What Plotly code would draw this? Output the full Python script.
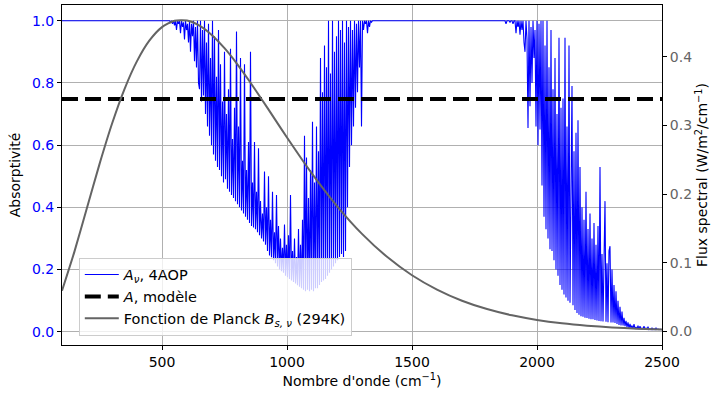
import numpy as np
import plotly.graph_objects as go

# ---------------- data ----------------
# Absorptivity A_nu (4AOP) - flat part, first band (530-1350, step 4), second band (1860-2500, step 4)
nu_flat = [100]
A_flat = [1.0]

nu_band1 = list(range(530, 1351, 4))
A_band1 = [
    1.0, 0.995, 1.0, 0.99, 1.0, 0.985, 1.0, 0.97, 1.0, 0.99,        # 530-566
    1.0, 0.96, 1.0, 0.98, 0.995, 0.94, 1.0, 0.97, 0.99, 0.93,       # 570-606
    1.0, 0.90, 0.99, 0.95, 1.0, 0.87, 0.98, 0.85, 1.0, 0.80,        # 610-646
    0.78, 1.0, 0.74, 0.97, 0.76, 1.0, 0.70, 0.93, 0.66, 0.99,       # 650-686
    0.63, 0.88, 0.60, 1.0, 0.57, 0.95, 0.55, 0.82, 0.53, 0.97,      # 690-726
    0.52, 0.86, 0.50, 0.74, 0.48, 0.90, 0.49, 0.70, 0.46, 0.78,     # 730-766
    0.45, 0.91, 0.44, 0.62, 0.43, 0.72, 0.42, 0.965, 0.41, 0.66,    # 770-806
    0.40, 0.88, 0.39, 0.55, 0.38, 0.86, 0.37, 0.52, 0.36, 0.61,     # 810-846
    0.35, 0.90, 0.34, 0.48, 0.335, 0.61, 0.33, 0.45, 0.32, 0.59,    # 850-886
    0.31, 0.42, 0.30, 0.38, 0.29, 0.515, 0.28, 0.40, 0.26, 0.50,    # 890-926
    0.245, 0.36, 0.24, 0.45, 0.23, 0.32, 0.22, 0.44, 0.21, 0.34,    # 930-966
    0.20, 0.30, 0.195, 0.27, 0.19, 0.345, 0.18, 0.28, 0.175, 0.31,  # 970-1006
    0.17, 0.44, 0.165, 0.26, 0.16, 0.30, 0.155, 0.24, 0.15, 0.33,   # 1010-1046
    0.145, 0.28, 0.14, 0.36, 0.135, 0.63, 0.13, 0.56, 0.135, 0.43,  # 1050-1086
    0.13, 0.52, 0.135, 0.675, 0.13, 0.48, 0.14, 0.66, 0.14, 0.58,   # 1090-1126
    0.15, 0.88, 0.16, 0.77, 0.165, 0.92, 0.17, 0.85, 0.18, 1.0,     # 1130-1166
    0.19, 0.83, 0.20, 1.0, 0.21, 0.90, 0.22, 0.95, 0.23, 1.0,       # 1170-1206
    0.24, 0.97, 0.25, 1.0, 0.24, 0.93, 0.26, 1.0, 0.40, 0.98,       # 1210-1246
    0.53, 1.0, 0.60, 0.97, 0.66, 1.0, 0.72, 0.99, 0.77, 1.0,        # 1250-1286
    0.85, 1.0, 0.66, 1.0, 0.97, 1.0, 0.99, 1.0, 0.96, 1.0,          # 1290-1326
    0.98, 1.0, 0.995, 1.0, 1.0, 1.0,                                # 1330-1350
]

nu_band2 = list(range(1860, 2501, 4))
A_band2 = [
    1.0, 1.0, 1.0, 1.0, 0.99, 1.0, 1.0, 1.0, 0.995, 1.0,            # 1860-1896
    1.0, 0.99, 1.0, 1.0, 0.96, 1.0, 0.98, 1.0, 0.955, 1.0,          # 1900-1936
    0.97, 1.0, 0.93, 0.90, 1.0, 0.94, 0.655, 1.0, 0.725, 0.98,      # 1940-1976
    0.80, 1.0, 0.88, 0.97, 0.66, 1.0, 0.60, 0.99, 0.65, 1.0,        # 1980-2016
    0.47, 1.0, 0.37, 0.92, 0.33, 1.0, 0.30, 0.85, 0.265, 0.97,      # 2020-2056
    0.26, 0.78, 0.23, 0.88, 0.20, 0.70, 0.18, 0.945, 0.15, 0.72,    # 2060-2096
    0.135, 0.75, 0.12, 0.945, 0.11, 0.66, 0.10, 0.92, 0.093, 0.62,  # 2100-2136
    0.79, 0.085, 0.58, 0.07, 0.64, 0.06, 0.68, 0.055, 0.53, 0.05,   # 2140-2176
    0.40, 0.048, 0.36, 0.045, 0.45, 0.044, 0.33, 0.042, 0.38, 0.04, # 2180-2216
    0.30, 0.04, 0.35, 0.038, 0.28, 0.036, 0.34, 0.035, 0.53, 0.034, # 2220-2256
    0.25, 0.033, 0.30, 0.42, 0.032, 0.22, 0.031, 0.26, 0.275, 0.03, # 2260-2296
    0.20, 0.03, 0.15, 0.028, 0.13, 0.025, 0.10, 0.022, 0.08, 0.02,  # 2300-2336
    0.065, 0.02, 0.045, 0.018, 0.035, 0.015, 0.03, 0.012, 0.025, 0.012,  # 2340-2376
    0.02, 0.01, 0.025, 0.009, 0.015, 0.009, 0.02, 0.008, 0.018, 0.008,   # 2380-2416
    0.012, 0.008, 0.018, 0.007, 0.012, 0.007, 0.016, 0.007, 0.01, 0.007, # 2420-2456
    0.013, 0.007, 0.01, 0.007, 0.012, 0.007, 0.009, 0.007, 0.008, 0.007, # 2460-2496
    0.007,                                                           # 2500
]

# Model absorptivity (constant)
nu_model = [100, 2500]
A_model = [0.748, 0.748]

# Planck function B_s,nu (294 K), W/m2/cm-1
nu_planck = [100, 150, 200, 250, 300, 350, 400, 450, 500, 550, 600, 650, 700, 750,
             800, 850, 900, 950, 1000, 1100, 1200, 1300, 1400, 1500, 1600, 1700,
             1800, 1900, 2000, 2100, 2200, 2300, 2400, 2500]
flux_planck = [0.0593, 0.1166, 0.1802, 0.2437, 0.3024, 0.3530, 0.3937, 0.4238,
               0.4432, 0.4526, 0.4529, 0.4454, 0.4315, 0.4125, 0.3898, 0.3644,
               0.3375, 0.3100, 0.2825, 0.2298, 0.1826, 0.1421, 0.1087, 0.0819,
               0.0610, 0.0448, 0.0326, 0.0235, 0.0168, 0.0119, 0.0084, 0.0059,
               0.0041, 0.0028]

x_ticks = [500, 1000, 1500, 2000, 2500]
y_ticks = [0.0, 0.2, 0.4, 0.6, 0.8, 1.0]
y2_ticks = [0.0, 0.1, 0.2, 0.3, 0.4]

# ---------------- figure ----------------
nu_A = nu_flat + nu_band1 + nu_band2
A_all = A_flat + A_band1 + A_band2

FONT = "DejaVu Sans"
fig = go.Figure()
fig.add_trace(go.Scatter(
    x=nu_A, y=A_all, mode="lines",
    line=dict(color="#0000ff", width=1.1),
    name="<i>A</i><sub><i>ν</i></sub>, 4AOP",
))
fig.add_trace(go.Scatter(
    x=nu_model, y=A_model, mode="lines",
    line=dict(color="black", width=4, dash="16px,7px"),
    name="<i>A</i>, modèle",
))
fig.add_trace(go.Scatter(
    x=nu_planck, y=flux_planck, mode="lines", yaxis="y2",
    line=dict(color="#646464", width=2, shape="spline", smoothing=0.6),
    name="Fonction de Planck <i>B</i><sub><i>s, ν</i></sub> (294K)",
))

fig.update_layout(
    width=717, height=393,
    margin=dict(l=62, r=55, t=5, b=48),
    paper_bgcolor="white", plot_bgcolor="white",
    font=dict(family=FONT, size=14, color="black"),
    showlegend=True,
    legend=dict(
        x=0.028, y=0.257, xanchor="left", yanchor="top",
        bgcolor="rgba(255,255,255,0.8)", bordercolor="#cccccc", borderwidth=1,
        font=dict(family=FONT, size=14.5, color="black"),
        itemwidth=34, tracegroupgap=0,
    ),
    xaxis=dict(
        range=[100, 2500], tickvals=x_ticks, ticktext=[str(v) for v in x_ticks],
        showgrid=True, gridcolor="#b0b0b0", gridwidth=1, zeroline=False,
        showline=True, linecolor="black", linewidth=1, mirror=True,
        ticks="outside", ticklen=4, tickcolor="black",
        tickfont=dict(size=14, color="black"),
        title=dict(text="Nombre d'onde (cm<sup>−1</sup>)", standoff=7,
                   font=dict(size=14)),
    ),
    yaxis=dict(
        range=[-0.0425, 1.0505], tickvals=y_ticks,
        ticktext=[f"{v:.1f}" for v in y_ticks],
        showgrid=True, gridcolor="#b0b0b0", gridwidth=1, zeroline=False,
        showline=True, linecolor="black", linewidth=1,
        ticks="outside", ticklen=4, tickcolor="black",
        tickfont=dict(size=14, color="#0000ff"),
        title=dict(text="Absorptivité", standoff=8, font=dict(size=14)),
    ),
    yaxis2=dict(
        range=[-0.0197, 0.4754], tickvals=y2_ticks,
        ticktext=[f"{v:.1f}" for v in y2_ticks],
        overlaying="y", side="right", anchor="x",
        showgrid=False, zeroline=False,
        showline=True, linecolor="black", linewidth=1,
        ticks="outside", ticklen=4, tickcolor="black",
        tickfont=dict(size=14, color="#646464"),
        title=dict(text="Flux spectral (W/m<sup>2</sup>/cm<sup>−1</sup>)",
                   standoff=6, font=dict(size=14)),
    ),
)

fig.write_html("out.html", config={"displayModeBar": False},
               post_script="document.body.style.margin='0';")
